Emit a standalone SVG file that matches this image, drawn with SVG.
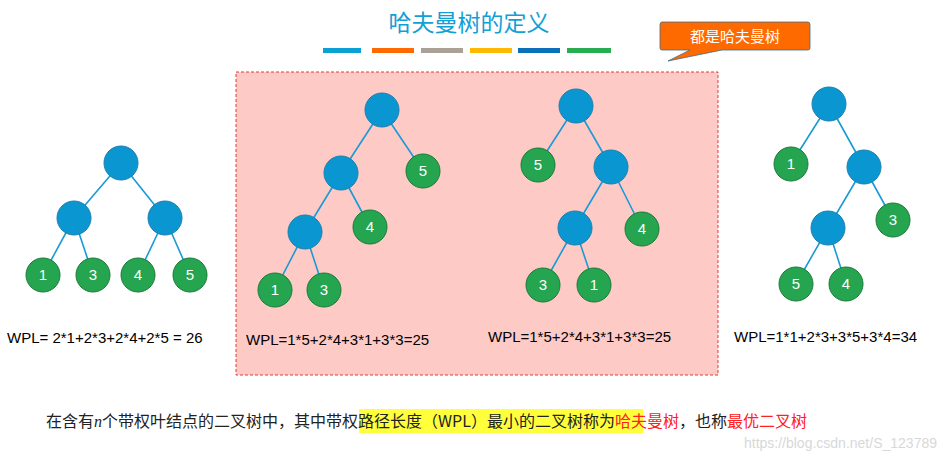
<svg xmlns="http://www.w3.org/2000/svg" width="945" height="464" viewBox="0 0 945 464">
<style>
.e{stroke:#1a9ad6;stroke-width:1.6;fill:none}
.i{fill:#0a96d0;stroke:#1d7fae;stroke-width:1}
.l{fill:#25a54f;stroke:#1b7a3a;stroke-width:1}
.lt{font-family:"Liberation Sans",sans-serif;font-size:15px;fill:#fff;text-anchor:middle}
.w{font-family:"Liberation Sans",sans-serif;font-size:15px;fill:#000}
.c{font-family:"Noto Sans CJK SC",sans-serif}
</style>
<rect width="945" height="464" fill="#fff"/>
<g id="title"><text x="469" y="31" text-anchor="middle" class="c" font-size="23" fill="#11a0d6">哈夫曼树的定义</text>
<rect x="323" y="48" width="38" height="5" fill="#0aa0d4"/><rect x="372" y="48" width="42" height="5" fill="#ff6a00"/><rect x="421" y="48" width="42" height="5" fill="#a9a096"/><rect x="470" y="48" width="42" height="5" fill="#ffb900"/><rect x="518" y="48" width="42" height="5" fill="#0a70b8"/><rect x="567" y="48" width="44" height="5" fill="#28ad50"/></g>
<g id="callout"><path d="M662,22 H808 Q810,22 810,25 V48 Q810,50 808,50 H722 L668,61 L690,50 H662 Q660,50 660,48 V25 Q660,22 662,22 Z" fill="#ff6a00" stroke="#3d6c8c" stroke-width="0.8"/><text x="735" y="42" text-anchor="middle" class="c" font-size="15" fill="#fff">都是哈夫曼树</text></g>
<rect id="box" x="236" y="72" width="482" height="303" fill="#fdcac6" stroke="#e23a3a" stroke-dasharray="3,2"/>
<g id="connectors">
<path class="e" d="M121,163 L74,218 M121,163 L165,218 M74,218 L43,275 M74,218 L93,275 M165,218 L138,275 M165,218 L190,275"/>
<path class="e" d="M382,110 L341,173 M382,110 L423,171 M341,173 L305,232 M341,173 L370,227 M305,232 L275,290 M305,232 L324,290"/>
<path class="e" d="M576,106 L538,165 M576,106 L611,167 M611,167 L575,228 M611,167 L642,229 M575,228 L543,285 M575,228 L594,285"/>
<path class="e" d="M829,104 L791,164 M829,104 L864,167 M864,167 L828,228 M864,167 L893,220 M828,228 L796,284 M828,228 L846,284"/>
</g>
<g id="tree1"><circle class="i" cx="121" cy="163" r="17"/><circle class="i" cx="74" cy="218" r="17"/><circle class="i" cx="165" cy="218" r="17"/>
<circle class="l" cx="43" cy="275" r="17"/><circle class="l" cx="93" cy="275" r="17"/><circle class="l" cx="138" cy="275" r="17"/><circle class="l" cx="190" cy="275" r="17"/>
<text class="lt" x="43" y="280">1</text><text class="lt" x="93" y="280">3</text><text class="lt" x="138" y="280">4</text><text class="lt" x="190" y="280">5</text>
<text class="w" x="7" y="343">WPL= 2*1+2*3+2*4+2*5 = 26</text></g>
<g id="tree2"><circle class="i" cx="382" cy="110" r="17"/><circle class="i" cx="341" cy="173" r="17"/><circle class="i" cx="305" cy="232" r="17"/>
<circle class="l" cx="423" cy="171" r="17"/><circle class="l" cx="370" cy="227" r="17"/><circle class="l" cx="275" cy="290" r="17"/><circle class="l" cx="324" cy="290" r="17"/>
<text class="lt" x="423" y="176">5</text><text class="lt" x="370" y="232">4</text><text class="lt" x="275" y="295">1</text><text class="lt" x="324" y="295">3</text>
<text class="w" x="246" y="345">WPL=1*5+2*4+3*1+3*3=25</text></g>
<g id="tree3"><circle class="i" cx="576" cy="106" r="17"/><circle class="i" cx="611" cy="167" r="17"/><circle class="i" cx="575" cy="228" r="17"/>
<circle class="l" cx="538" cy="165" r="17"/><circle class="l" cx="642" cy="229" r="17"/><circle class="l" cx="543" cy="285" r="17"/><circle class="l" cx="594" cy="285" r="17"/>
<text class="lt" x="538" y="170">5</text><text class="lt" x="642" y="234">4</text><text class="lt" x="543" y="290">3</text><text class="lt" x="594" y="290">1</text>
<text class="w" x="488" y="342">WPL=1*5+2*4+3*1+3*3=25</text></g>
<g id="tree4"><circle class="i" cx="829" cy="104" r="17"/><circle class="i" cx="864" cy="167" r="17"/><circle class="i" cx="828" cy="228" r="17"/>
<circle class="l" cx="791" cy="164" r="17"/><circle class="l" cx="893" cy="220" r="17"/><circle class="l" cx="796" cy="284" r="17"/><circle class="l" cx="846" cy="284" r="17"/>
<text class="lt" x="791" y="169">1</text><text class="lt" x="893" y="225">3</text><text class="lt" x="796" y="289">5</text><text class="lt" x="846" y="289">4</text>
<text class="w" x="734" y="342">WPL=1*1+2*3+3*5+3*4=34</text></g>
<g id="caption"><rect x="359" y="409" width="284" height="24" fill="#ffff3c"/>
<text x="46" y="427" class="c" font-size="16" fill="#222">在含有<tspan font-style="italic" font-family="Liberation Serif,serif">n</tspan>个带权叶结点的二叉树中，其中带权路径长度（WPL）最小的二叉树称为<tspan fill="#ff2020">哈夫曼树</tspan>，也称<tspan fill="#ff2020">最优二叉树</tspan></text>
<text x="937" y="448" text-anchor="end" font-family="Liberation Sans,sans-serif" font-size="14" fill="#d8d8d8">https://blog.csdn.net/S_123789</text></g>
</svg>
